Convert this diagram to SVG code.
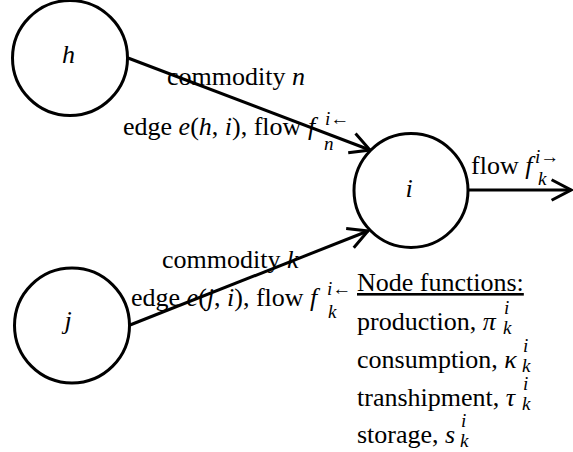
<svg xmlns="http://www.w3.org/2000/svg" width="573" height="452" viewBox="0 0 573 452">
<style>
.node{fill:#fff;stroke:#000;stroke-width:3}
.edge{fill:none;stroke:#000;stroke-width:3}
.ah{fill:none;stroke:#000;stroke-width:3;stroke-linejoin:miter;stroke-linecap:butt}
text{font-family:"Liberation Serif","Times New Roman",serif;font-size:26px;fill:#000}
.it{font-style:italic}
.sc{font-size:19px}
.lbl{font-style:italic;text-anchor:middle}
</style>
<defs>
<marker id="arr" markerUnits="userSpaceOnUse" viewBox="-24 -14 28 28" refX="0" refY="0" markerWidth="28" markerHeight="28" orient="auto" overflow="visible">
<path class="ah" d="M-19.4,-10.3 L0,0 L-19.4,10.3"/>
</marker>
</defs>
<g id="connectors">
<line class="edge" x1="128" y1="58" x2="370" y2="150" marker-end="url(#arr)"/>
<line class="edge" x1="130" y1="325" x2="368" y2="231" marker-end="url(#arr)"/>
<line class="edge" x1="468" y1="190" x2="571" y2="190" marker-end="url(#arr)"/>
</g>
<g id="node-h">
<circle class="node" cx="70" cy="58" r="57.5"/>
<text class="lbl" x="68.5" y="63">h</text>
</g>
<g id="node-i">
<circle class="node" cx="411" cy="190.5" r="57"/>
<text class="lbl" x="409" y="197">i</text>
</g>
<g id="node-j">
<circle class="node" cx="72" cy="325.5" r="57.5"/>
<text class="lbl" x="68" y="329">j</text>
</g>
<g id="labels">
<text x="167" y="85">commodity <tspan class="it">n</tspan></text>
<text x="123" y="135">edge <tspan class="it">e</tspan>(<tspan class="it">h</tspan>, <tspan class="it">i</tspan>), flow <tspan class="it">f</tspan></text>
<text class="sc" x="325" y="125"><tspan class="it">i</tspan>←</text>
<text class="sc it" x="324" y="150">n</text>
<text x="162" y="268">commodity <tspan class="it">k</tspan></text>
<text x="131" y="306">edge <tspan class="it">e</tspan>(<tspan class="it">j</tspan>, <tspan class="it">i</tspan>), flow <tspan class="it">f</tspan></text>
<text class="sc" x="327" y="295"><tspan class="it">i</tspan>←</text>
<text class="sc it" x="328" y="318">k</text>
<text x="471" y="174">flow <tspan class="it">f</tspan></text>
<text class="sc" x="535" y="163"><tspan class="it">i</tspan>→</text>
<text class="sc it" x="538" y="185">k</text>
</g>
<g id="node-functions">
<text x="357" y="291" text-decoration="underline">Node functions:</text>
<text x="357" y="330">production, <tspan class="it">π</tspan></text>
<text class="sc it" x="504" y="314">i</text>
<text class="sc it" x="503" y="334">k</text>
<text x="357" y="368">consumption, <tspan class="it">κ</tspan></text>
<text class="sc it" x="523" y="352">i</text>
<text class="sc it" x="522" y="372">k</text>
<text x="357" y="406">transhipment, <tspan class="it">τ</tspan></text>
<text class="sc it" x="523" y="390">i</text>
<text class="sc it" x="522" y="410">k</text>
<text x="357" y="443">storage, <tspan class="it">s</tspan></text>
<text class="sc it" x="461" y="427">i</text>
<text class="sc it" x="460" y="447">k</text>
</g>
</svg>
